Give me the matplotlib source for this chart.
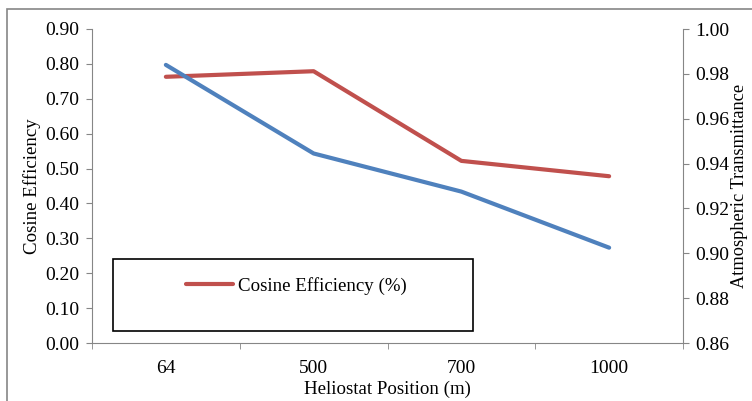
import matplotlib
matplotlib.use("Agg")
import matplotlib.pyplot as plt
from matplotlib.patches import Rectangle
from matplotlib.ticker import FixedLocator, FormatStrFormatter

positions = ["64", "500", "700", "1000"]
cosine_eff = [0.763, 0.779, 0.522, 0.478]
atm_trans = [0.984, 0.9445, 0.9275, 0.9025]

plt.rcParams['font.family'] = ['Liberation Serif', 'DejaVu Serif']
plt.rcParams['font.size'] = 13.6

red = '#C0504D'
blue = '#4F81BD'
grey = '#868686'

fig = plt.figure(figsize=(7.52, 4.01), dpi=100)
fig.patches.append(Rectangle((7/752, -0.1), 1.0, (401-9)/401 + 0.1,
                             transform=fig.transFigure, fill=False,
                             edgecolor=grey, linewidth=1.2))
ax = fig.add_axes([92/752, 1-343/401, 591/752, 314/401])
ax2 = ax.twinx()

x = list(range(len(positions)))
l1, = ax.plot(x, cosine_eff, color=red, lw=3, solid_capstyle='round',
              label='Cosine Efficiency (%)')
ax2.plot(x, atm_trans, color=blue, lw=3, solid_capstyle='round')

ax.set_xlim(-0.5, 3.5)
ax.set_ylim(0, 0.9)
ax.set_yticks([i/10 for i in range(10)])
ax.yaxis.set_major_formatter(FormatStrFormatter('%.2f'))
ax2.set_ylim(0.86, 1.0)
ax2.set_yticks([0.86, 0.88, 0.90, 0.92, 0.94, 0.96, 0.98, 1.00])
ax2.yaxis.set_major_formatter(FormatStrFormatter('%.2f'))

ax.set_xticks(x)
ax.set_xticklabels(positions)
ax.xaxis.set_minor_locator(FixedLocator([-0.5, 0.5, 1.5, 2.5, 3.5]))
ax.tick_params(axis='x', which='major', length=0, pad=12, labelsize=14)
ax.tick_params(axis='x', which='minor', length=4, color=grey, direction='out')
ax.tick_params(axis='y', length=4, color=grey, direction='out', pad=5, labelsize=14)
ax2.tick_params(axis='y', length=4, color=grey, direction='out', pad=5, labelsize=14)

for a in (ax, ax2):
    a.spines['top'].set_visible(False)
    for s in ('left', 'right', 'bottom'):
        a.spines[s].set_color(grey)
ax.spines['right'].set_visible(False)
ax2.spines['left'].set_visible(False)
ax2.spines['bottom'].set_visible(False)

ax.set_xlabel('Heliostat Position (m)', labelpad=3)
ax.set_ylabel('Cosine Efficiency', labelpad=3)
ax2.set_ylabel('Atmospheric Transmittance', labelpad=1, fontsize=13.2)

# legend box
ax.add_patch(Rectangle((21/591, 12/314), 360/591, 72/314, transform=ax.transAxes,
                       fill=False, edgecolor='black', linewidth=1.2, zorder=5))
leg = ax.legend(handles=[l1], loc='center left',
                bbox_to_anchor=((186-92)/591, (343-286)/314),
                frameon=False, borderpad=0, borderaxespad=0,
                handlelength=2.5, handletextpad=0.25)

fig.savefig('out.png', dpi=100)
